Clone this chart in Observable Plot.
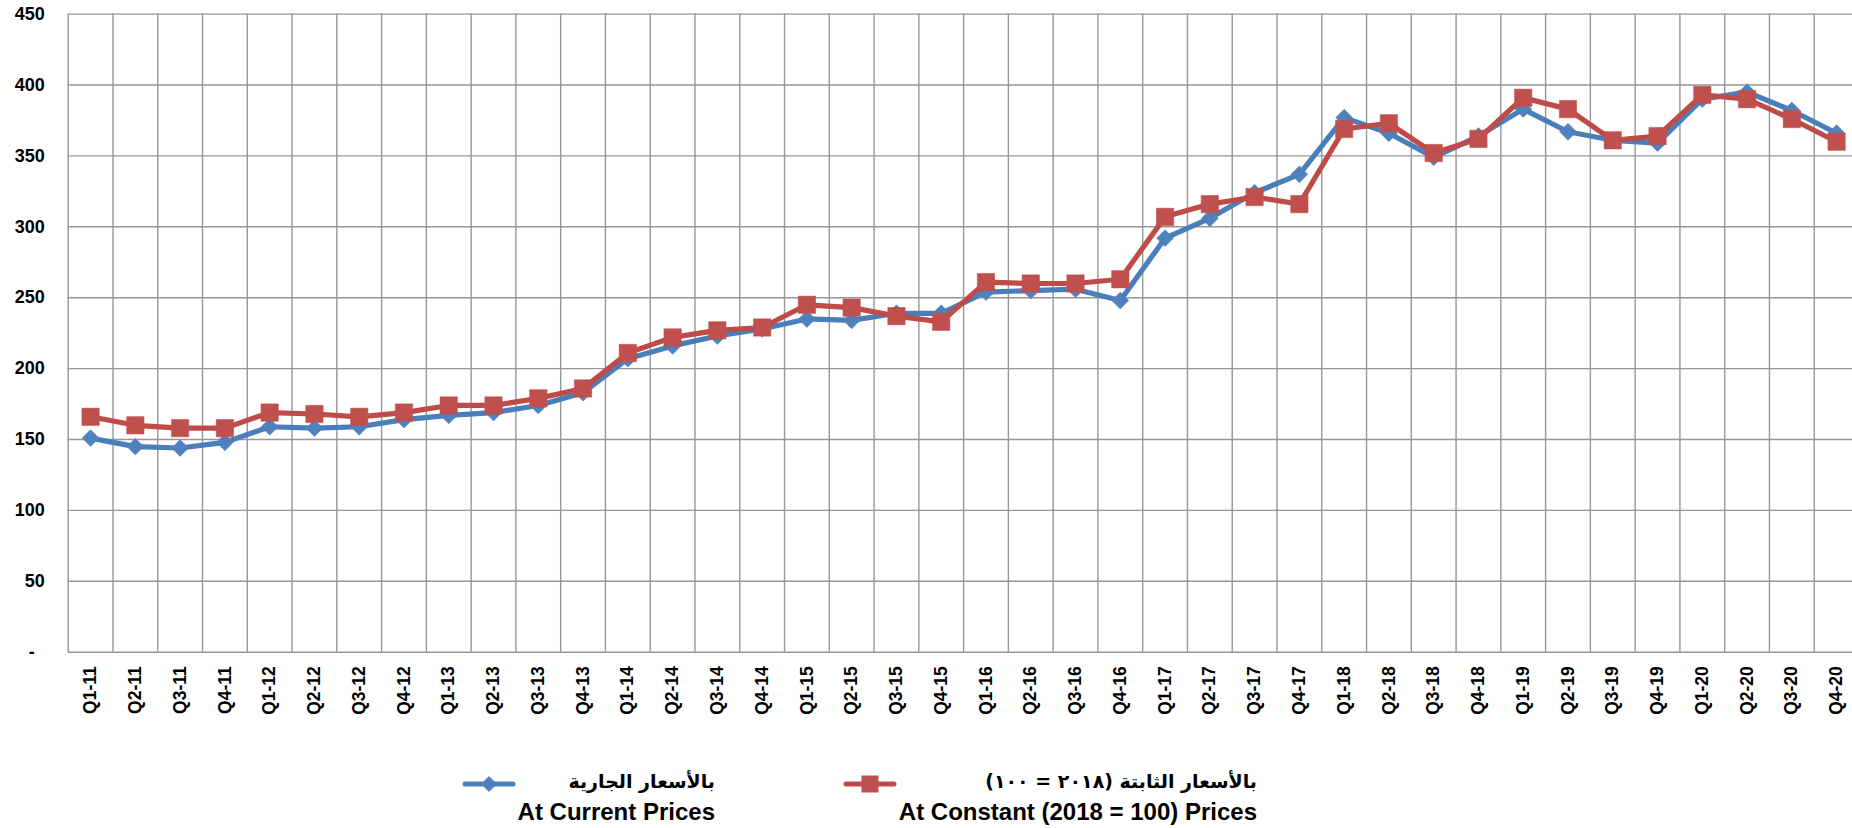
<!DOCTYPE html>
<html>
<head>
<meta charset="utf-8">
<script src="https://cdn.jsdelivr.net/npm/d3@7"></script>
<script src="https://cdn.jsdelivr.net/npm/@observablehq/plot@0.6"></script>
<style>
  html, body { margin: 0; padding: 0; background: #fff; overflow: hidden; }
  #wrap { position: relative; width: 1852px; height: 828px; }
  .leg { position: absolute; font-weight: bold; color: #000; white-space: nowrap; text-align: right; }
  .en { font-family: "Liberation Sans", Arial, sans-serif; font-size: 24px; line-height: 24px; }
  .ar { font-family: "DejaVu Sans", "Liberation Sans", sans-serif; font-size: 19px; line-height: 24px; }
  .sw { position: absolute; }
</style>
</head>
<body>
<div id="wrap"></div>
<script>
// Categories (quarters)
const quarters = [
  "Q1-11","Q2-11","Q3-11","Q4-11",
  "Q1-12","Q2-12","Q3-12","Q4-12",
  "Q1-13","Q2-13","Q3-13","Q4-13",
  "Q1-14","Q2-14","Q3-14","Q4-14",
  "Q1-15","Q2-15","Q3-15","Q4-15",
  "Q1-16","Q2-16","Q3-16","Q4-16",
  "Q1-17","Q2-17","Q3-17","Q4-17",
  "Q1-18","Q2-18","Q3-18","Q4-18",
  "Q1-19","Q2-19","Q3-19","Q4-19",
  "Q1-20","Q2-20","Q3-20","Q4-20"
];
// At Current Prices
const currentPrices = [
  151, 145, 144, 148,
  159, 158, 159, 164,
  167, 169, 174, 183,
  207, 216, 223, 228,
  235, 234, 239, 239,
  254, 255, 256, 248,
  292, 306, 324, 337,
  377, 366, 349, 364,
  383, 367, 361, 359,
  390, 395, 382, 366
];
// At Constant (2018 = 100) Prices
const constantPrices = [
  166, 160, 158, 158,
  169, 168, 166, 169,
  174, 174, 179, 186,
  211, 222, 227, 229,
  245, 243, 237, 233,
  261, 260, 260, 263,
  307, 316, 321, 316,
  369, 373, 352, 362,
  391, 383, 361, 364,
  393, 390, 376, 360
];
const yTicks = [0, 50, 100, 150, 200, 250, 300, 350, 400, 450];
const seriesNamesAr = ["بالأسعار الجارية", "بالأسعار الثابتة (٢٠١٨ = ١٠٠)"];
const seriesNamesEn = ["At Current Prices", "At Constant (2018 = 100) Prices"];

const blue = "#4a7ebb", blueMarker = "#4f81bd";
const red = "#be4b48", redMarker = "#c0504d";
const gridColor = "#969696";

const idx = quarters.map((q, i) => i);
const cur = quarters.map((q, i) => ({pos: i + 0.5, v: currentPrices[i]}));
const con = quarters.map((q, i) => ({pos: i + 0.5, v: constantPrices[i]}));

const W = 1852, H = 740;
const plotLeft = 67.7, colW = 44.77, plotTop = 13.6, plotBottom = 651.7;

const chart = Plot.plot({
  width: W,
  height: H,
  marginLeft: plotLeft,
  marginRight: 0,
  marginTop: plotTop,
  marginBottom: H - plotBottom,
  style: {fontFamily: "'Liberation Sans', Arial, sans-serif", fontWeight: "bold", background: "white", overflow: "hidden"},
  x: {domain: [0, quarters.length], range: [plotLeft, plotLeft + colW * quarters.length]},
  y: {domain: [0, 450], range: [plotBottom, plotTop]},
  marks: [
    Plot.ruleY(yTicks, {stroke: gridColor, strokeWidth: 1.4, strokeOpacity: 1}),
    Plot.ruleX(d3.range(0, quarters.length + 1), {stroke: gridColor, strokeWidth: 1.4, strokeOpacity: 1}),
    Plot.axisY({
      ticks: yTicks, tickSize: 0, tickPadding: 23.5,
      tickFormat: d => d === 0 ? "-  " : String(d),
      fontSize: 18, fontWeight: "bold", label: null
    }),
    Plot.axisX({
      ticks: idx.map(i => i + 0.5), tickSize: 0, tickPadding: 14, tickRotate: -90,
      tickFormat: d => quarters[Math.floor(d)],
      fontSize: 17.5, fontWeight: "bold", label: null
    }),
    Plot.line(cur, {x: "pos", y: "v", stroke: blue, strokeWidth: 5.2, strokeLinejoin: "round", strokeLinecap: "round"}),
    Plot.dot(cur, {x: "pos", y: "v", symbol: "diamond2", r: 7.6, fill: blueMarker, stroke: blueMarker, strokeWidth: 0.5}),
    Plot.line(con, {x: "pos", y: "v", stroke: red, strokeWidth: 5.2, strokeLinejoin: "round", strokeLinecap: "round"}),
    Plot.dot(con, {x: "pos", y: "v", symbol: "square", r: 9.8, fill: redMarker, stroke: redMarker, strokeWidth: 0.5})
  ]
});

const wrap = document.getElementById("wrap");
chart.style.position = "absolute";
chart.style.left = "0px";
chart.style.top = "0px";
wrap.appendChild(chart);

// Legend
function swatch(x, color, markerColor, kind) {
  const svg = d3.create("svg").attr("class", "sw").attr("width", 54).attr("height", 22)
    .style("left", x + "px").style("top", "773px");
  svg.append("line").attr("x1", 3).attr("x2", 51).attr("y1", 11).attr("y2", 11)
    .attr("stroke", color).attr("stroke-width", 5).attr("stroke-linecap", "round");
  if (kind === "diamond") {
    svg.append("path").attr("d", "M27,3L35,11L27,19L19,11Z").attr("fill", markerColor);
  } else {
    svg.append("rect").attr("x", 18.5).attr("y", 2.5).attr("width", 17).attr("height", 17).attr("fill", markerColor);
  }
  wrap.appendChild(svg.node());
}
swatch(462, blue, blueMarker, "diamond");
swatch(843, red, redMarker, "square");

function legendText(rightEdge, ar, en) {
  const a = document.createElement("div");
  a.className = "leg ar";
  a.dir = "rtl";
  a.style.right = (1852 - rightEdge) + "px";
  a.style.top = "769px";
  a.textContent = ar;
  wrap.appendChild(a);
  const e = document.createElement("div");
  e.className = "leg en";
  e.style.right = (1852 - rightEdge) + "px";
  e.style.top = "800px";
  e.textContent = en;
  wrap.appendChild(e);
}
legendText(715, seriesNamesAr[0], seriesNamesEn[0]);
legendText(1257, seriesNamesAr[1], seriesNamesEn[1]);
</script>
</body>
</html>
